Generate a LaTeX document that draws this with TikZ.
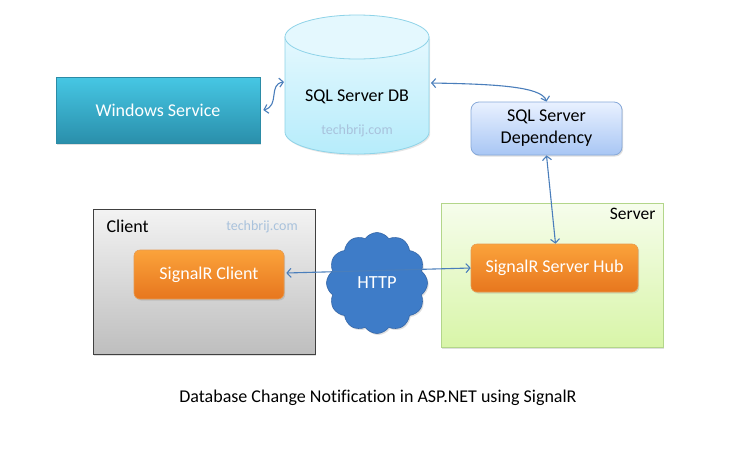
\documentclass[tikz,border=0pt]{standalone}
\usepackage{fontspec}
\setmainfont{Carlito}[Ligatures={NoCommon}]
\usetikzlibrary{shapes.symbols,shapes.geometric,shadows,arrows.meta}
\definecolor{wstop}{HTML}{46C7E4}
\definecolor{wsbot}{HTML}{2A8FAB}
\definecolor{wsline}{HTML}{2B8BA6}
\definecolor{dbtop}{HTML}{E4F8FE}
\definecolor{dbbot}{HTML}{B6ECFB}
\definecolor{dbline}{HTML}{8ED3E8}
\definecolor{deptop}{HTML}{E9F1FF}
\definecolor{depbot}{HTML}{A8C6F4}
\definecolor{depline}{HTML}{87A9D9}
\definecolor{svtop}{HTML}{F6FDEC}
\definecolor{svbot}{HTML}{D8F5A8}
\definecolor{svline}{HTML}{B3D68A}
\definecolor{ortop}{HTML}{FBA33B}
\definecolor{orbot}{HTML}{E7761E}
\definecolor{orline}{HTML}{E79A4F}
\definecolor{cltop}{HTML}{F3F3F3}
\definecolor{clbot}{HTML}{BEBEBE}
\definecolor{clline}{HTML}{404040}
\definecolor{cloudc}{HTML}{3E7CC8}
\definecolor{cloudl}{HTML}{3466A8}
\definecolor{arrowc}{HTML}{4A7EBB}
\definecolor{wmark}{HTML}{A9C2DC}
\begin{document}
\begin{tikzpicture}[x=1pt,y=-1pt,
  txt/.style={font=\fontsize{18}{21}\selectfont, align=center},
  shadowed/.style={drop shadow={shadow xshift=1.2pt,shadow yshift=-1.5pt,opacity=0.25}},
  wsbox/.style={rectangle, draw=wsline, line width=0.6pt, top color=wstop, bottom color=wsbot, text=white, txt, shadowed},
  depbox/.style={rectangle, rounded corners=8pt, draw=depline, line width=0.8pt, top color=deptop, bottom color=depbot, txt, shadowed},
  areabox/.style={rectangle, line width=0.8pt, shadowed},
  orbox/.style={rectangle, rounded corners=6pt, draw=orline, line width=0.6pt, top color=ortop, bottom color=orbot, text=white, txt, shadowed},
  conn/.style={draw=arrowc, line width=1.1pt, {Straight Barb[length=4pt,width=9pt]}-{Straight Barb[length=4pt,width=9pt]}},
  wmarktxt/.style={font=\fontsize{14}{16}\selectfont, text=wmark}
]
\useasboundingbox[fill=white] (0,0) rectangle (730,464);

% Windows Service
\node[wsbox, minimum width=204pt, minimum height=66pt] (ws) at (158,110) {Windows Service};

% SQL Server DB cylinder
\path[draw=dbline, line width=0.8pt, top color=dbtop, bottom color=dbbot, drop shadow={shadow xshift=1.2pt,shadow yshift=-1.5pt,opacity=0.2}]
  (285,37) -- (285,132)
  .. controls (285,144.15) and (317.2,154) .. (357,154)
  .. controls (396.8,154) and (429,144.15) .. (429,132)
  -- (429,37) -- cycle;
\node[ellipse, draw=dbline, line width=0.8pt, fill=dbtop, inner sep=0, minimum width=144pt, minimum height=44pt] (dbtopell) at (357,37) {};
\node[txt, text=black] (db) at (357,97) {SQL Server DB};
\node[wmarktxt] (dbmark) at (357,131) {techbrij.com};
\coordinate (dbW) at (284,82);
\coordinate (dbE) at (431,83);

% SQL Server Dependency
\node[depbox, minimum width=151pt, minimum height=53pt] (dep) at (546.5,128.5) {SQL Server\\[1pt]Dependency};

% Server area
\node[areabox, draw=svline, top color=svtop, bottom color=svbot, minimum width=222pt, minimum height=144pt] (server) at (552,275) {};
\node[font=\fontsize{17.5}{20}\selectfont, anchor=north east] (serverlbl) at (659,205) {Server};

% Client area
\node[areabox, draw=clline, top color=cltop, bottom color=clbot, minimum width=222pt, minimum height=145pt] (client) at (204,281.5) {};
\node[font=\fontsize{18}{20}\selectfont, anchor=north west] (clientlbl) at (103,216) {Client};
\node[wmarktxt] (clmark) at (262,227) {techbrij.com};

% SignalR boxes
\node[orbox, minimum width=167pt, minimum height=48pt] (hub) at (554.5,268) {SignalR Server Hub};
\node[orbox, minimum width=150pt, minimum height=49pt] (sclient) at (209,274.5) {SignalR Client};

% HTTP cloud
\node[cloud, cloud puffs=12, cloud puff arc=110, aspect=1, draw=cloudl, line width=0.6pt, fill=cloudc, text=white, inner sep=0, minimum width=101pt, minimum height=101pt, font=\fontsize{18.5}{20}\selectfont, shadowed] (http) at (377,283) {HTTP};

% connectors
\draw[conn] ([xshift=3pt,yshift=0pt]ws.east) .. controls (280,106) and (268,84) .. (dbW);
\draw[conn] (dbE) .. controls (490,84) and (542,86) .. (dep.north);
\draw[conn] ([xshift=0pt]dep.south) -- ([xshift=1pt]hub.north);
\draw[conn] ([xshift=2pt,yshift=1.5pt]sclient.east) -- (hub.west);

% caption
\node[font=\fontsize{18}{20}\selectfont] (caption) at (378,398) {Database Change Notification in ASP.NET using SignalR};
\end{tikzpicture}
\end{document}
